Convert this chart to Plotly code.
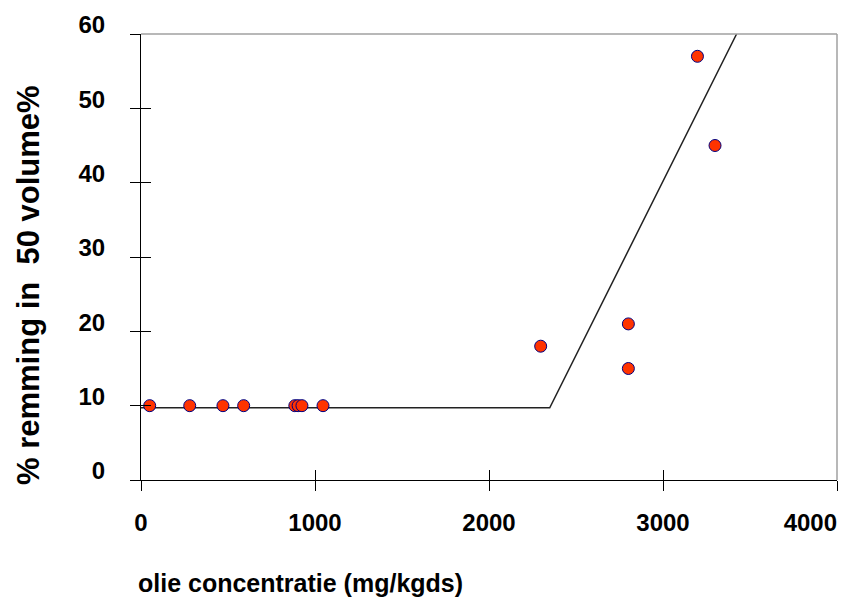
import plotly.graph_objects as go

# data points
conc = [50, 280, 471, 590, 884, 903, 925, 1046, 2297, 2801, 2801, 3198, 3299]
remming = [10, 10, 10, 10, 10, 10, 10, 10, 18, 21, 15, 57, 45]

# fitted broken-line model
fit_x = [0, 2349, 3423]
fit_y = [9.72, 9.72, 60]

x_ticks = [0, 1000, 2000, 3000, 4000]
y_ticks = [0, 10, 20, 30, 40, 50, 60]

FONT = "Liberation Sans, Arial, sans-serif"

x_ticktext = [f"<b>{v}</b>" for v in x_ticks]
x_ticktext[-1] = x_ticktext[-1] + "&nbsp;" * 8  # last label sits inside the page in the original

fig = go.Figure()
fig.add_trace(go.Scatter(x=fit_x, y=fit_y, mode="lines",
                         line=dict(color="#222222", width=1.5),
                         showlegend=False, hoverinfo="skip"))
fig.add_trace(go.Scatter(x=conc, y=remming, mode="markers",
                         marker=dict(size=12, color="#ff3300",
                                     line=dict(color="#000080", width=1)),
                         showlegend=False))

tickfont = dict(family=FONT, size=24, color="black")
fig.update_layout(
    width=853, height=598,
    margin=dict(l=141, r=16, t=34, b=118, autoexpand=False),
    paper_bgcolor="white", plot_bgcolor="white",
    xaxis=dict(range=[0, 4000], tickvals=x_ticks, ticktext=x_ticktext,
               ticks="outside", ticklen=10, tickcolor="black", tickwidth=1,
               showline=True, linecolor="black", linewidth=1,
               showgrid=False, zeroline=False, tickfont=tickfont, automargin=False,
               ticklabelstandoff=11, ticklabeloverflow="allow"),
    yaxis=dict(range=[0, 60], tickvals=y_ticks, ticktext=[f"<b>{v}</b>" for v in y_ticks],
               ticks="outside", ticklen=10, tickcolor="black", tickwidth=1,
               showline=True, linecolor="black", linewidth=1,
               showgrid=False, zeroline=False, tickfont=tickfont, automargin=False,
               ticklabelstandoff=20, ticklabelshift=-9, ticklabeloverflow="allow"),
    xaxis2=dict(range=[0, 4000], tickvals=x_ticks, overlaying="x", anchor="y",
                side="bottom", ticks="inside", ticklen=10, tickcolor="black", automargin=False,
                showticklabels=False, showgrid=False, zeroline=False, showline=False),
    yaxis2=dict(range=[0, 60], tickvals=y_ticks, overlaying="y", anchor="x",
                side="left", ticks="inside", ticklen=10, tickcolor="black", automargin=False,
                showticklabels=False, showgrid=False, zeroline=False, showline=False),
    shapes=[
        dict(type="line", xref="paper", yref="paper", x0=0, x1=1, y0=1, y1=1,
             line=dict(color="#a0a0a0", width=1.5)),
        dict(type="line", xref="paper", yref="paper", x0=1, x1=1, y0=0, y1=1,
             line=dict(color="#a0a0a0", width=1.5)),
    ],
    annotations=[
        dict(text="<b>olie concentratie (mg/kgds)</b>", xref="paper", yref="paper",
             x=(300 - 141) / 696, y=-(583 - 480) / 446, showarrow=False,
             font=dict(family=FONT, size=25, color="black"),
             xanchor="center", yanchor="middle"),
        dict(text="<b>% remming in  50 volume%</b>", xref="paper", yref="paper",
             x=-(141 - 28) / 696, y=(480 - 285) / 446, showarrow=False, textangle=-90,
             font=dict(family=FONT, size=31, color="black"),
             xanchor="center", yanchor="middle"),
    ],
)
# dummy trace to activate overlay axes
fig.add_trace(go.Scatter(x=[None], y=[None], xaxis="x2", yaxis="y2",
                         showlegend=False, hoverinfo="skip"))

fig.write_html("out.html")
